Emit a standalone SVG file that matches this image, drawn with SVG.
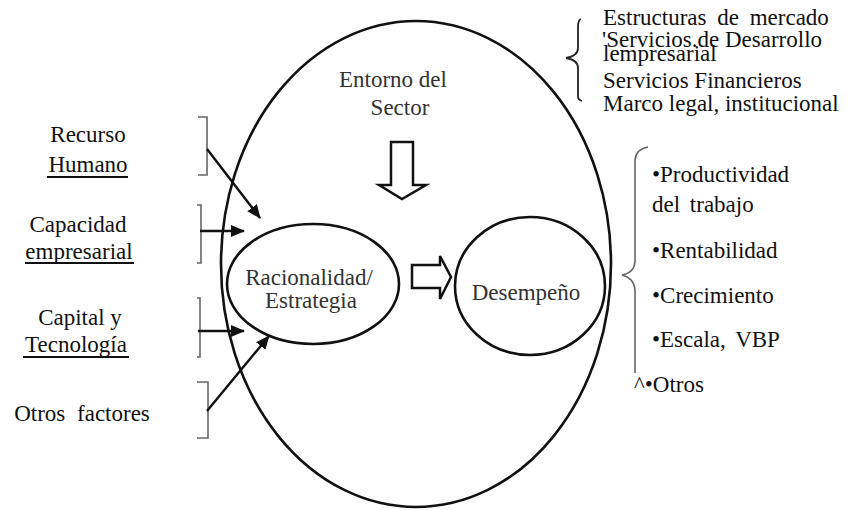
<svg xmlns="http://www.w3.org/2000/svg" width="850" height="510" viewBox="0 0 850 510">
<style>
  text { font-family: "Liberation Serif", "DejaVu Serif", "Noto Serif", "Times New Roman", serif; font-size: 23px; fill: #111; }
  .inner { fill: #333; }
  .mid { text-anchor: middle; }
  .shape { fill: none; stroke: #111; stroke-width: 2.6; }
  .hollow { fill: #fff; stroke: #111; stroke-width: 2.5; stroke-linejoin: miter; }
  .bracket { fill: none; stroke: #666; stroke-width: 1.6; }
  .brace { fill: none; stroke: #222; stroke-width: 1.8; }
  .conn { stroke: #111; stroke-width: 2.4; marker-end: url(#ah); }
  .ul { stroke: #111; stroke-width: 1.8; }
</style>
<defs>
  <marker id="ah" markerUnits="userSpaceOnUse" markerWidth="14" markerHeight="12" refX="13" refY="6" orient="auto">
    <path d="M0,0 L14,6 L0,12 z" fill="#111"/>
  </marker>
</defs>
<rect width="850" height="510" fill="#fff"/>

<g id="entorno">
  <ellipse class="shape" cx="416" cy="264" rx="195" ry="243"/>
  <text class="inner mid" x="393" y="87" font-family="Liberation Serif, serif">Entorno del</text>
  <text class="inner mid" x="400" y="115" font-family="Liberation Serif, serif">Sector</text>
</g>

<g id="racionalidad">
  <ellipse class="shape" cx="313" cy="284" rx="86" ry="60"/>
  <text class="inner mid" x="309" y="285">Racionalidad/</text>
  <text class="inner mid" x="311" y="308">Estrategia</text>
</g>

<g id="desempeno">
  <ellipse class="shape" cx="530" cy="286" rx="75" ry="69"/>
  <text class="inner mid" x="526" y="300">Desempeño</text>
</g>

<g id="flecha-entorno">
  <polygon class="hollow" points="391,142 413,142 413,185 426,185 402,199 379,185 391,185"/>
</g>
<g id="flecha-desempeno">
  <polygon class="hollow" points="412,265 440,265 440,256 451,277 440,299 440,288 412,288"/>
</g>

<g id="mercado">
  <path class="brace" d="M581,19 Q578,20 578,27 L578,48 Q578,56 566,58 Q578,60 578,68 L578,96 Q578,100 582,101"/>
  <text x="603" y="25" word-spacing="5">Estructuras de mercado</text>
  <text x="602" y="47">'Servicios.de Desarrollo</text>
  <text x="603" y="61">lempresarial</text>
  <text x="603" y="88">Servicios Financieros</text>
  <text x="603" y="111">Marco legal, institucional</text>
</g>

<g id="indicadores">
  <path class="bracket" d="M648,147 Q636,149 635,160 L635,262 Q634,273 622,275 Q634,278 635,290 L635,373"/>
  <text x="652" y="182">•Productividad</text>
  <text x="652" y="212" word-spacing="4">del trabajo</text>
  <text x="652" y="258">•Rentabilidad</text>
  <text x="652" y="303">•Crecimiento</text>
  <text x="652" y="347" word-spacing="4">•Escala, VBP</text>
  <text x="634" y="392">^•Otros</text>
</g>

<g id="recurso-humano">
  <text class="mid" x="88" y="142">Recurso</text>
  <text class="mid" x="88" y="172">Humano</text>
  <line class="ul" x1="47" y1="177" x2="128" y2="177"/>
  <path class="bracket" d="M198,117 H207 V175 H198"/>
</g>
<g id="capacidad-empresarial">
  <text class="mid" x="78" y="232">Capacidad</text>
  <text class="mid" x="79" y="259">empresarial</text>
  <line class="ul" x1="25" y1="263" x2="134" y2="263"/>
  <path class="bracket" d="M197,205 H201 V263 H197"/>
</g>
<g id="capital-tecnologia">
  <text class="mid" x="80" y="325">Capital y</text>
  <text class="mid" x="76" y="352">Tecnología</text>
  <line class="ul" x1="23" y1="357" x2="129" y2="357"/>
  <path class="bracket" d="M197,298 H200 V357 H197"/>
</g>
<g id="otros-factores">
  <text class="mid" x="82" y="421" word-spacing="6">Otros factores</text>
  <path class="bracket" d="M197,382 H208 V438 H197"/>
</g>

<g id="connectors">
  <line class="conn" x1="207" y1="149" x2="260" y2="218"/>
  <line class="conn" x1="200" y1="231" x2="244" y2="231"/>
  <line class="conn" x1="198" y1="331" x2="244" y2="331"/>
  <line class="conn" x1="207" y1="411" x2="269" y2="336"/>
</g>
</svg>
